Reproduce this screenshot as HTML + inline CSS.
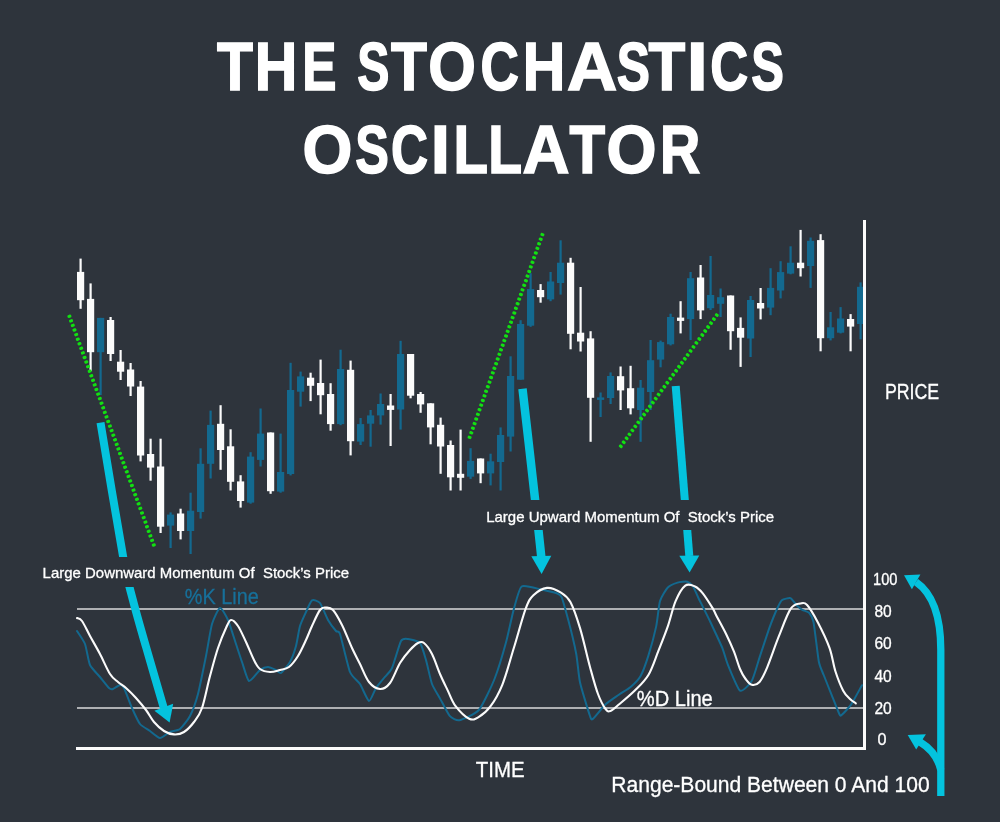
<!DOCTYPE html>
<html><head><meta charset="utf-8"><title>The Stochastics Oscillator</title>
<style>html,body{margin:0;padding:0;background:#2e343c;width:1000px;height:822px;overflow:hidden}svg{display:block;will-change:transform}</style>
</head><body>
<svg width="1000" height="822" viewBox="0 0 1000 822">
<rect width="1000" height="822" fill="#2e343c"/>
<g fill="#ffffff" stroke="#ffffff" stroke-width="1.60" stroke-linejoin="miter" font-family="'Liberation Sans', sans-serif" font-weight="bold" font-size="68.31">
<text transform="translate(217.03 90.20) scale(0.8607 1)">T</text><text transform="translate(254.75 90.20) scale(0.8620 1)">H</text><text transform="translate(302.17 90.20) scale(0.7514 1)">E</text><text transform="translate(357.18 90.20) scale(0.7054 1)">S</text><text transform="translate(391.03 90.20) scale(0.8607 1)">T</text><text transform="translate(428.20 90.20) scale(0.8967 1)">O</text><text transform="translate(480.44 90.20) scale(0.7781 1)">C</text><text transform="translate(522.75 90.20) scale(0.8620 1)">H</text><text transform="translate(567.08 90.20) scale(1.0183 1)">A</text><text transform="translate(616.65 90.20) scale(0.7289 1)">S</text><text transform="translate(648.53 90.20) scale(0.8798 1)">T</text><text transform="translate(686.82 90.20) scale(1.1101 1)">I</text><text transform="translate(710.26 90.20) scale(0.7695 1)">C</text><text transform="translate(751.16 90.20) scale(0.7172 1)">S</text>
<text transform="translate(302.62 172.70) scale(0.9395 1)">O</text><text transform="translate(355.14 172.70) scale(0.7383 1)">S</text><text transform="translate(391.10 172.70) scale(0.7500 1)">C</text><text transform="translate(430.78 172.70) scale(1.0140 1)">I</text><text transform="translate(453.58 172.70) scale(0.8266 1)">L</text><text transform="translate(488.25 172.70) scale(0.8102 1)">L</text><text transform="translate(522.44 172.70) scale(0.9529 1)">A</text><text transform="translate(569.53 172.70) scale(0.8535 1)">T</text><text transform="translate(606.52 172.70) scale(0.9416 1)">O</text><text transform="translate(659.92 172.70) scale(0.8162 1)">R</text>
</g>
<g><rect x="79.5" y="258.6" width="2.2" height="50.2" fill="#fbfbfb"/><rect x="77.0" y="271.9" width="7.2" height="28.3" fill="#fbfbfb"/><rect x="89.5" y="283.4" width="2.2" height="87.6" fill="#fbfbfb"/><rect x="87.0" y="298.9" width="7.2" height="53.3" fill="#fbfbfb"/><rect x="99.5" y="317.9" width="2.2" height="77.1" fill="#13698f"/><rect x="97.0" y="317.9" width="7.2" height="34.3" fill="#13698f"/><rect x="109.5" y="317.0" width="2.2" height="44.0" fill="#fbfbfb"/><rect x="107.0" y="320.0" width="7.2" height="34.0" fill="#fbfbfb"/><rect x="119.5" y="350.0" width="2.2" height="30.0" fill="#fbfbfb"/><rect x="117.0" y="361.7" width="7.2" height="10.0" fill="#fbfbfb"/><rect x="129.5" y="363.0" width="2.2" height="33.0" fill="#fbfbfb"/><rect x="127.0" y="369.5" width="7.2" height="17.0" fill="#fbfbfb"/><rect x="139.5" y="381.0" width="2.2" height="80.4" fill="#fbfbfb"/><rect x="137.0" y="386.6" width="7.2" height="68.9" fill="#fbfbfb"/><rect x="149.5" y="438.7" width="2.2" height="42.0" fill="#fbfbfb"/><rect x="147.0" y="454.0" width="7.2" height="13.6" fill="#fbfbfb"/><rect x="159.5" y="438.7" width="2.2" height="94.3" fill="#fbfbfb"/><rect x="157.0" y="466.5" width="7.2" height="60.2" fill="#fbfbfb"/><rect x="169.5" y="512.4" width="2.2" height="35.6" fill="#13698f"/><rect x="167.0" y="514.6" width="7.2" height="11.0" fill="#13698f"/><rect x="179.5" y="508.7" width="2.2" height="30.7" fill="#fbfbfb"/><rect x="177.0" y="513.5" width="7.2" height="17.5" fill="#fbfbfb"/><rect x="189.5" y="492.7" width="2.2" height="61.3" fill="#13698f"/><rect x="187.0" y="510.7" width="7.2" height="20.3" fill="#13698f"/><rect x="199.5" y="448.3" width="2.2" height="70.3" fill="#13698f"/><rect x="197.0" y="463.8" width="7.2" height="48.2" fill="#13698f"/><rect x="209.5" y="410.6" width="2.2" height="67.9" fill="#13698f"/><rect x="207.0" y="424.9" width="7.2" height="38.9" fill="#13698f"/><rect x="219.5" y="405.2" width="2.2" height="64.6" fill="#fbfbfb"/><rect x="217.0" y="423.8" width="7.2" height="26.2" fill="#fbfbfb"/><rect x="229.5" y="429.3" width="2.2" height="61.2" fill="#fbfbfb"/><rect x="227.0" y="446.3" width="7.2" height="35.5" fill="#fbfbfb"/><rect x="239.5" y="475.2" width="2.2" height="32.4" fill="#fbfbfb"/><rect x="237.0" y="481.4" width="7.2" height="19.6" fill="#fbfbfb"/><rect x="249.5" y="452.2" width="2.2" height="51.5" fill="#13698f"/><rect x="247.0" y="456.6" width="7.2" height="46.0" fill="#13698f"/><rect x="259.5" y="408.5" width="2.2" height="58.0" fill="#13698f"/><rect x="257.0" y="433.6" width="7.2" height="26.3" fill="#13698f"/><rect x="269.5" y="432.5" width="2.2" height="61.3" fill="#fbfbfb"/><rect x="267.0" y="432.5" width="7.2" height="58.7" fill="#fbfbfb"/><rect x="279.5" y="433.6" width="2.2" height="59.1" fill="#13698f"/><rect x="277.0" y="472.0" width="7.2" height="19.6" fill="#13698f"/><rect x="289.5" y="362.8" width="2.2" height="112.6" fill="#13698f"/><rect x="287.0" y="390.0" width="7.2" height="84.0" fill="#13698f"/><rect x="299.5" y="371.6" width="2.2" height="35.0" fill="#13698f"/><rect x="297.0" y="376.4" width="7.2" height="15.3" fill="#13698f"/><rect x="309.5" y="372.7" width="2.2" height="28.4" fill="#fbfbfb"/><rect x="307.0" y="377.7" width="7.2" height="8.1" fill="#fbfbfb"/><rect x="319.5" y="359.6" width="2.2" height="54.7" fill="#fbfbfb"/><rect x="317.0" y="383.0" width="7.2" height="12.2" fill="#fbfbfb"/><rect x="329.5" y="383.2" width="2.2" height="47.5" fill="#fbfbfb"/><rect x="327.0" y="394.0" width="7.2" height="30.1" fill="#fbfbfb"/><rect x="339.5" y="349.7" width="2.2" height="75.5" fill="#13698f"/><rect x="337.0" y="369.0" width="7.2" height="55.1" fill="#13698f"/><rect x="349.5" y="360.6" width="2.2" height="94.8" fill="#fbfbfb"/><rect x="347.0" y="369.8" width="7.2" height="71.4" fill="#fbfbfb"/><rect x="359.5" y="418.0" width="2.2" height="27.0" fill="#13698f"/><rect x="357.0" y="424.1" width="7.2" height="17.5" fill="#13698f"/><rect x="369.5" y="410.0" width="2.2" height="36.7" fill="#13698f"/><rect x="367.0" y="415.4" width="7.2" height="8.3" fill="#13698f"/><rect x="379.5" y="393.5" width="2.2" height="31.1" fill="#13698f"/><rect x="377.0" y="404.0" width="7.2" height="11.4" fill="#13698f"/><rect x="389.5" y="394.0" width="2.2" height="52.0" fill="#fbfbfb"/><rect x="387.0" y="405.5" width="7.2" height="4.4" fill="#fbfbfb"/><rect x="399.5" y="340.8" width="2.2" height="88.8" fill="#13698f"/><rect x="397.0" y="354.0" width="7.2" height="55.5" fill="#13698f"/><rect x="409.5" y="354.0" width="2.2" height="44.3" fill="#fbfbfb"/><rect x="407.0" y="354.0" width="7.2" height="41.7" fill="#fbfbfb"/><rect x="419.5" y="392.0" width="2.2" height="20.8" fill="#fbfbfb"/><rect x="417.0" y="394.0" width="7.2" height="10.4" fill="#fbfbfb"/><rect x="429.5" y="403.3" width="2.2" height="41.0" fill="#fbfbfb"/><rect x="427.0" y="403.3" width="7.2" height="24.1" fill="#fbfbfb"/><rect x="439.5" y="417.6" width="2.2" height="56.2" fill="#fbfbfb"/><rect x="437.0" y="424.8" width="7.2" height="21.7" fill="#fbfbfb"/><rect x="449.5" y="440.5" width="2.2" height="50.0" fill="#fbfbfb"/><rect x="447.0" y="445.0" width="7.2" height="32.3" fill="#fbfbfb"/><rect x="459.5" y="429.6" width="2.2" height="60.9" fill="#fbfbfb"/><rect x="457.0" y="473.8" width="7.2" height="4.0" fill="#fbfbfb"/><rect x="469.5" y="448.2" width="2.2" height="30.7" fill="#13698f"/><rect x="467.0" y="460.9" width="7.2" height="15.8" fill="#13698f"/><rect x="479.5" y="458.5" width="2.2" height="24.7" fill="#fbfbfb"/><rect x="477.0" y="458.5" width="7.2" height="14.9" fill="#fbfbfb"/><rect x="489.5" y="453.7" width="2.2" height="31.7" fill="#13698f"/><rect x="487.0" y="461.3" width="7.2" height="12.1" fill="#13698f"/><rect x="499.5" y="427.4" width="2.2" height="63.1" fill="#13698f"/><rect x="497.0" y="435.0" width="7.2" height="27.0" fill="#13698f"/><rect x="509.5" y="356.3" width="2.2" height="95.2" fill="#13698f"/><rect x="507.0" y="376.0" width="7.2" height="60.6" fill="#13698f"/><rect x="519.5" y="320.2" width="2.2" height="59.5" fill="#13698f"/><rect x="517.0" y="324.0" width="7.2" height="55.7" fill="#13698f"/><rect x="529.5" y="273.2" width="2.2" height="53.6" fill="#13698f"/><rect x="527.0" y="289.1" width="7.2" height="36.6" fill="#13698f"/><rect x="539.5" y="284.1" width="2.2" height="18.6" fill="#fbfbfb"/><rect x="537.0" y="290.0" width="7.2" height="7.2" fill="#fbfbfb"/><rect x="549.5" y="272.0" width="2.2" height="29.2" fill="#13698f"/><rect x="547.0" y="281.5" width="7.2" height="17.9" fill="#13698f"/><rect x="559.5" y="240.3" width="2.2" height="54.3" fill="#13698f"/><rect x="557.0" y="262.7" width="7.2" height="20.3" fill="#13698f"/><rect x="569.5" y="257.8" width="2.2" height="91.5" fill="#fbfbfb"/><rect x="567.0" y="262.7" width="7.2" height="71.1" fill="#fbfbfb"/><rect x="579.5" y="287.0" width="2.2" height="64.5" fill="#fbfbfb"/><rect x="577.0" y="332.7" width="7.2" height="8.8" fill="#fbfbfb"/><rect x="589.5" y="331.2" width="2.2" height="110.6" fill="#fbfbfb"/><rect x="587.0" y="338.4" width="7.2" height="59.4" fill="#fbfbfb"/><rect x="599.5" y="392.5" width="2.2" height="24.5" fill="#13698f"/><rect x="597.0" y="397.4" width="7.2" height="2.5" fill="#13698f"/><rect x="609.5" y="372.4" width="2.2" height="31.6" fill="#13698f"/><rect x="607.0" y="376.0" width="7.2" height="22.0" fill="#13698f"/><rect x="619.5" y="366.5" width="2.2" height="43.5" fill="#fbfbfb"/><rect x="617.0" y="376.2" width="7.2" height="14.2" fill="#fbfbfb"/><rect x="629.5" y="365.8" width="2.2" height="48.6" fill="#fbfbfb"/><rect x="627.0" y="388.2" width="7.2" height="20.1" fill="#fbfbfb"/><rect x="639.5" y="380.0" width="2.2" height="61.8" fill="#13698f"/><rect x="637.0" y="387.7" width="7.2" height="22.3" fill="#13698f"/><rect x="649.5" y="340.0" width="2.2" height="70.0" fill="#13698f"/><rect x="647.0" y="360.2" width="7.2" height="31.8" fill="#13698f"/><rect x="659.5" y="340.6" width="2.2" height="26.7" fill="#13698f"/><rect x="657.0" y="342.1" width="7.2" height="17.5" fill="#13698f"/><rect x="669.5" y="313.7" width="2.2" height="31.7" fill="#13698f"/><rect x="667.0" y="317.0" width="7.2" height="27.3" fill="#13698f"/><rect x="679.5" y="301.2" width="2.2" height="32.2" fill="#fbfbfb"/><rect x="677.0" y="317.6" width="7.2" height="3.3" fill="#fbfbfb"/><rect x="689.5" y="272.0" width="2.2" height="68.0" fill="#13698f"/><rect x="687.0" y="278.2" width="7.2" height="40.9" fill="#13698f"/><rect x="699.5" y="265.0" width="2.2" height="54.1" fill="#fbfbfb"/><rect x="697.0" y="277.5" width="7.2" height="32.9" fill="#fbfbfb"/><rect x="709.5" y="256.0" width="2.2" height="54.0" fill="#13698f"/><rect x="707.0" y="295.0" width="7.2" height="13.2" fill="#13698f"/><rect x="719.5" y="288.5" width="2.2" height="28.5" fill="#13698f"/><rect x="717.0" y="297.2" width="7.2" height="6.6" fill="#13698f"/><rect x="729.5" y="295.5" width="2.2" height="54.3" fill="#fbfbfb"/><rect x="727.0" y="295.5" width="7.2" height="35.7" fill="#fbfbfb"/><rect x="739.5" y="317.4" width="2.2" height="49.5" fill="#fbfbfb"/><rect x="737.0" y="327.9" width="7.2" height="9.8" fill="#fbfbfb"/><rect x="749.5" y="296.0" width="2.2" height="61.0" fill="#13698f"/><rect x="747.0" y="300.0" width="7.2" height="38.5" fill="#13698f"/><rect x="759.5" y="288.0" width="2.2" height="31.4" fill="#fbfbfb"/><rect x="757.0" y="303.0" width="7.2" height="5.5" fill="#fbfbfb"/><rect x="769.5" y="268.2" width="2.2" height="47.0" fill="#13698f"/><rect x="767.0" y="287.9" width="7.2" height="19.7" fill="#13698f"/><rect x="779.5" y="261.2" width="2.2" height="37.2" fill="#13698f"/><rect x="777.0" y="272.1" width="7.2" height="18.4" fill="#13698f"/><rect x="789.5" y="246.3" width="2.2" height="28.0" fill="#13698f"/><rect x="787.0" y="262.7" width="7.2" height="10.9" fill="#13698f"/><rect x="799.5" y="229.9" width="2.2" height="46.6" fill="#fbfbfb"/><rect x="797.0" y="262.7" width="7.2" height="5.5" fill="#fbfbfb"/><rect x="809.5" y="237.5" width="2.2" height="50.4" fill="#13698f"/><rect x="807.0" y="240.8" width="7.2" height="25.2" fill="#13698f"/><rect x="819.5" y="234.2" width="2.2" height="117.1" fill="#fbfbfb"/><rect x="817.0" y="240.1" width="7.2" height="98.1" fill="#fbfbfb"/><rect x="829.5" y="312.0" width="2.2" height="28.4" fill="#13698f"/><rect x="827.0" y="327.3" width="7.2" height="10.9" fill="#13698f"/><rect x="839.5" y="307.1" width="2.2" height="26.3" fill="#13698f"/><rect x="837.0" y="318.5" width="7.2" height="14.2" fill="#13698f"/><rect x="849.5" y="314.1" width="2.2" height="37.2" fill="#fbfbfb"/><rect x="847.0" y="319.0" width="7.2" height="7.6" fill="#fbfbfb"/><rect x="859.5" y="282.4" width="2.2" height="56.9" fill="#13698f"/><rect x="857.0" y="286.8" width="7.2" height="37.2" fill="#13698f"/></g>
<g fill="#12e012"><rect x="67.9" y="314.3" width="3.0" height="4.0" rx="1.2" transform="rotate(69.7 69.4 316.3)"/><rect x="69.6" y="318.9" width="3.0" height="4.0" rx="1.2" transform="rotate(69.7 71.1 320.9)"/><rect x="71.3" y="323.4" width="3.0" height="4.0" rx="1.2" transform="rotate(69.7 72.8 325.4)"/><rect x="73.0" y="328.0" width="3.0" height="4.0" rx="1.2" transform="rotate(69.7 74.5 330.0)"/><rect x="74.7" y="332.6" width="3.0" height="4.0" rx="1.2" transform="rotate(69.7 76.2 334.6)"/><rect x="76.3" y="337.2" width="3.0" height="4.0" rx="1.2" transform="rotate(69.7 77.8 339.2)"/><rect x="78.0" y="341.7" width="3.0" height="4.0" rx="1.2" transform="rotate(69.7 79.5 343.7)"/><rect x="79.7" y="346.3" width="3.0" height="4.0" rx="1.2" transform="rotate(69.7 81.2 348.3)"/><rect x="81.4" y="350.9" width="3.0" height="4.0" rx="1.2" transform="rotate(69.7 82.9 352.9)"/><rect x="83.1" y="355.5" width="3.0" height="4.0" rx="1.2" transform="rotate(69.7 84.6 357.5)"/><rect x="84.8" y="360.0" width="3.0" height="4.0" rx="1.2" transform="rotate(69.7 86.3 362.0)"/><rect x="86.5" y="364.6" width="3.0" height="4.0" rx="1.2" transform="rotate(69.7 88.0 366.6)"/><rect x="88.2" y="369.2" width="3.0" height="4.0" rx="1.2" transform="rotate(69.7 89.7 371.2)"/><rect x="89.8" y="373.8" width="3.0" height="4.0" rx="1.2" transform="rotate(69.7 91.3 375.8)"/><rect x="91.5" y="378.3" width="3.0" height="4.0" rx="1.2" transform="rotate(69.7 93.0 380.3)"/><rect x="93.2" y="382.9" width="3.0" height="4.0" rx="1.2" transform="rotate(69.7 94.7 384.9)"/><rect x="94.9" y="387.5" width="3.0" height="4.0" rx="1.2" transform="rotate(69.7 96.4 389.5)"/><rect x="96.6" y="392.1" width="3.0" height="4.0" rx="1.2" transform="rotate(69.7 98.1 394.1)"/><rect x="98.3" y="396.6" width="3.0" height="4.0" rx="1.2" transform="rotate(69.7 99.8 398.6)"/><rect x="100.0" y="401.2" width="3.0" height="4.0" rx="1.2" transform="rotate(69.7 101.5 403.2)"/><rect x="101.7" y="405.8" width="3.0" height="4.0" rx="1.2" transform="rotate(69.7 103.2 407.8)"/><rect x="103.3" y="410.4" width="3.0" height="4.0" rx="1.2" transform="rotate(69.7 104.8 412.4)"/><rect x="105.0" y="414.9" width="3.0" height="4.0" rx="1.2" transform="rotate(69.7 106.5 416.9)"/><rect x="106.7" y="419.5" width="3.0" height="4.0" rx="1.2" transform="rotate(69.7 108.2 421.5)"/><rect x="108.4" y="424.1" width="3.0" height="4.0" rx="1.2" transform="rotate(69.7 109.9 426.1)"/><rect x="110.1" y="428.6" width="3.0" height="4.0" rx="1.2" transform="rotate(69.7 111.6 430.6)"/><rect x="111.8" y="433.2" width="3.0" height="4.0" rx="1.2" transform="rotate(69.7 113.3 435.2)"/><rect x="113.5" y="437.8" width="3.0" height="4.0" rx="1.2" transform="rotate(69.7 115.0 439.8)"/><rect x="115.2" y="442.4" width="3.0" height="4.0" rx="1.2" transform="rotate(69.7 116.7 444.4)"/><rect x="116.9" y="446.9" width="3.0" height="4.0" rx="1.2" transform="rotate(69.7 118.4 448.9)"/><rect x="118.5" y="451.5" width="3.0" height="4.0" rx="1.2" transform="rotate(69.7 120.0 453.5)"/><rect x="120.2" y="456.1" width="3.0" height="4.0" rx="1.2" transform="rotate(69.7 121.7 458.1)"/><rect x="121.9" y="460.7" width="3.0" height="4.0" rx="1.2" transform="rotate(69.7 123.4 462.7)"/><rect x="123.6" y="465.2" width="3.0" height="4.0" rx="1.2" transform="rotate(69.7 125.1 467.2)"/><rect x="125.3" y="469.8" width="3.0" height="4.0" rx="1.2" transform="rotate(69.7 126.8 471.8)"/><rect x="127.0" y="474.4" width="3.0" height="4.0" rx="1.2" transform="rotate(69.7 128.5 476.4)"/><rect x="128.7" y="479.0" width="3.0" height="4.0" rx="1.2" transform="rotate(69.7 130.2 481.0)"/><rect x="130.4" y="483.5" width="3.0" height="4.0" rx="1.2" transform="rotate(69.7 131.9 485.5)"/><rect x="132.0" y="488.1" width="3.0" height="4.0" rx="1.2" transform="rotate(69.7 133.5 490.1)"/><rect x="133.7" y="492.7" width="3.0" height="4.0" rx="1.2" transform="rotate(69.7 135.2 494.7)"/><rect x="135.4" y="497.3" width="3.0" height="4.0" rx="1.2" transform="rotate(69.7 136.9 499.3)"/><rect x="137.1" y="501.8" width="3.0" height="4.0" rx="1.2" transform="rotate(69.7 138.6 503.8)"/><rect x="138.8" y="506.4" width="3.0" height="4.0" rx="1.2" transform="rotate(69.7 140.3 508.4)"/><rect x="140.5" y="511.0" width="3.0" height="4.0" rx="1.2" transform="rotate(69.7 142.0 513.0)"/><rect x="142.2" y="515.6" width="3.0" height="4.0" rx="1.2" transform="rotate(69.7 143.7 517.6)"/><rect x="143.9" y="520.1" width="3.0" height="4.0" rx="1.2" transform="rotate(69.7 145.4 522.1)"/><rect x="145.5" y="524.7" width="3.0" height="4.0" rx="1.2" transform="rotate(69.7 147.0 526.7)"/><rect x="147.2" y="529.3" width="3.0" height="4.0" rx="1.2" transform="rotate(69.7 148.7 531.3)"/><rect x="148.9" y="533.9" width="3.0" height="4.0" rx="1.2" transform="rotate(69.7 150.4 535.9)"/><rect x="150.6" y="538.4" width="3.0" height="4.0" rx="1.2" transform="rotate(69.7 152.1 540.4)"/><rect x="152.3" y="543.0" width="3.0" height="4.0" rx="1.2" transform="rotate(69.7 153.8 545.0)"/><rect x="468.1" y="435.4" width="3.0" height="4.0" rx="1.2" transform="rotate(-70.3 469.6 437.4)"/><rect x="469.8" y="430.8" width="3.0" height="4.0" rx="1.2" transform="rotate(-70.3 471.3 432.8)"/><rect x="471.4" y="426.2" width="3.0" height="4.0" rx="1.2" transform="rotate(-70.3 472.9 428.2)"/><rect x="473.1" y="421.6" width="3.0" height="4.0" rx="1.2" transform="rotate(-70.3 474.6 423.6)"/><rect x="474.7" y="417.0" width="3.0" height="4.0" rx="1.2" transform="rotate(-70.3 476.2 419.0)"/><rect x="476.4" y="412.4" width="3.0" height="4.0" rx="1.2" transform="rotate(-70.3 477.9 414.4)"/><rect x="478.0" y="407.7" width="3.0" height="4.0" rx="1.2" transform="rotate(-70.3 479.5 409.7)"/><rect x="479.7" y="403.1" width="3.0" height="4.0" rx="1.2" transform="rotate(-70.3 481.2 405.1)"/><rect x="481.3" y="398.5" width="3.0" height="4.0" rx="1.2" transform="rotate(-70.3 482.8 400.5)"/><rect x="483.0" y="393.9" width="3.0" height="4.0" rx="1.2" transform="rotate(-70.3 484.5 395.9)"/><rect x="484.6" y="389.3" width="3.0" height="4.0" rx="1.2" transform="rotate(-70.3 486.1 391.3)"/><rect x="486.3" y="384.7" width="3.0" height="4.0" rx="1.2" transform="rotate(-70.3 487.8 386.7)"/><rect x="488.0" y="380.1" width="3.0" height="4.0" rx="1.2" transform="rotate(-70.3 489.5 382.1)"/><rect x="489.6" y="375.5" width="3.0" height="4.0" rx="1.2" transform="rotate(-70.3 491.1 377.5)"/><rect x="491.3" y="370.9" width="3.0" height="4.0" rx="1.2" transform="rotate(-70.3 492.8 372.9)"/><rect x="492.9" y="366.3" width="3.0" height="4.0" rx="1.2" transform="rotate(-70.3 494.4 368.3)"/><rect x="494.6" y="361.7" width="3.0" height="4.0" rx="1.2" transform="rotate(-70.3 496.1 363.7)"/><rect x="496.2" y="357.0" width="3.0" height="4.0" rx="1.2" transform="rotate(-70.3 497.7 359.0)"/><rect x="497.9" y="352.4" width="3.0" height="4.0" rx="1.2" transform="rotate(-70.3 499.4 354.4)"/><rect x="499.5" y="347.8" width="3.0" height="4.0" rx="1.2" transform="rotate(-70.3 501.0 349.8)"/><rect x="501.2" y="343.2" width="3.0" height="4.0" rx="1.2" transform="rotate(-70.3 502.7 345.2)"/><rect x="502.8" y="338.6" width="3.0" height="4.0" rx="1.2" transform="rotate(-70.3 504.3 340.6)"/><rect x="504.5" y="334.0" width="3.0" height="4.0" rx="1.2" transform="rotate(-70.3 506.0 336.0)"/><rect x="506.2" y="329.4" width="3.0" height="4.0" rx="1.2" transform="rotate(-70.3 507.7 331.4)"/><rect x="507.8" y="324.8" width="3.0" height="4.0" rx="1.2" transform="rotate(-70.3 509.3 326.8)"/><rect x="509.5" y="320.2" width="3.0" height="4.0" rx="1.2" transform="rotate(-70.3 511.0 322.2)"/><rect x="511.1" y="315.6" width="3.0" height="4.0" rx="1.2" transform="rotate(-70.3 512.6 317.6)"/><rect x="512.8" y="311.0" width="3.0" height="4.0" rx="1.2" transform="rotate(-70.3 514.3 313.0)"/><rect x="514.4" y="306.3" width="3.0" height="4.0" rx="1.2" transform="rotate(-70.3 515.9 308.3)"/><rect x="516.1" y="301.7" width="3.0" height="4.0" rx="1.2" transform="rotate(-70.3 517.6 303.7)"/><rect x="517.7" y="297.1" width="3.0" height="4.0" rx="1.2" transform="rotate(-70.3 519.2 299.1)"/><rect x="519.4" y="292.5" width="3.0" height="4.0" rx="1.2" transform="rotate(-70.3 520.9 294.5)"/><rect x="521.0" y="287.9" width="3.0" height="4.0" rx="1.2" transform="rotate(-70.3 522.5 289.9)"/><rect x="522.7" y="283.3" width="3.0" height="4.0" rx="1.2" transform="rotate(-70.3 524.2 285.3)"/><rect x="524.4" y="278.7" width="3.0" height="4.0" rx="1.2" transform="rotate(-70.3 525.9 280.7)"/><rect x="526.0" y="274.1" width="3.0" height="4.0" rx="1.2" transform="rotate(-70.3 527.5 276.1)"/><rect x="527.7" y="269.5" width="3.0" height="4.0" rx="1.2" transform="rotate(-70.3 529.2 271.5)"/><rect x="529.3" y="264.9" width="3.0" height="4.0" rx="1.2" transform="rotate(-70.3 530.8 266.9)"/><rect x="531.0" y="260.3" width="3.0" height="4.0" rx="1.2" transform="rotate(-70.3 532.5 262.3)"/><rect x="532.6" y="255.6" width="3.0" height="4.0" rx="1.2" transform="rotate(-70.3 534.1 257.6)"/><rect x="534.3" y="251.0" width="3.0" height="4.0" rx="1.2" transform="rotate(-70.3 535.8 253.0)"/><rect x="535.9" y="246.4" width="3.0" height="4.0" rx="1.2" transform="rotate(-70.3 537.4 248.4)"/><rect x="537.6" y="241.8" width="3.0" height="4.0" rx="1.2" transform="rotate(-70.3 539.1 243.8)"/><rect x="539.2" y="237.2" width="3.0" height="4.0" rx="1.2" transform="rotate(-70.3 540.7 239.2)"/><rect x="540.9" y="232.6" width="3.0" height="4.0" rx="1.2" transform="rotate(-70.3 542.4 234.6)"/><rect x="619.3" y="444.3" width="3.0" height="4.0" rx="1.2" transform="rotate(-53.8 620.8 446.3)"/><rect x="622.2" y="440.3" width="3.0" height="4.0" rx="1.2" transform="rotate(-53.8 623.7 442.3)"/><rect x="625.1" y="436.3" width="3.0" height="4.0" rx="1.2" transform="rotate(-53.8 626.6 438.3)"/><rect x="628.0" y="432.4" width="3.0" height="4.0" rx="1.2" transform="rotate(-53.8 629.5 434.4)"/><rect x="630.9" y="428.4" width="3.0" height="4.0" rx="1.2" transform="rotate(-53.8 632.4 430.4)"/><rect x="633.8" y="424.4" width="3.0" height="4.0" rx="1.2" transform="rotate(-53.8 635.3 426.4)"/><rect x="636.8" y="420.4" width="3.0" height="4.0" rx="1.2" transform="rotate(-53.8 638.3 422.4)"/><rect x="639.7" y="416.5" width="3.0" height="4.0" rx="1.2" transform="rotate(-53.8 641.2 418.5)"/><rect x="642.6" y="412.5" width="3.0" height="4.0" rx="1.2" transform="rotate(-53.8 644.1 414.5)"/><rect x="645.5" y="408.5" width="3.0" height="4.0" rx="1.2" transform="rotate(-53.8 647.0 410.5)"/><rect x="648.4" y="404.5" width="3.0" height="4.0" rx="1.2" transform="rotate(-53.8 649.9 406.5)"/><rect x="651.3" y="400.6" width="3.0" height="4.0" rx="1.2" transform="rotate(-53.8 652.8 402.6)"/><rect x="654.2" y="396.6" width="3.0" height="4.0" rx="1.2" transform="rotate(-53.8 655.7 398.6)"/><rect x="657.1" y="392.6" width="3.0" height="4.0" rx="1.2" transform="rotate(-53.8 658.6 394.6)"/><rect x="660.0" y="388.6" width="3.0" height="4.0" rx="1.2" transform="rotate(-53.8 661.5 390.6)"/><rect x="662.9" y="384.7" width="3.0" height="4.0" rx="1.2" transform="rotate(-53.8 664.4 386.7)"/><rect x="665.8" y="380.7" width="3.0" height="4.0" rx="1.2" transform="rotate(-53.8 667.3 382.7)"/><rect x="668.8" y="376.7" width="3.0" height="4.0" rx="1.2" transform="rotate(-53.8 670.3 378.7)"/><rect x="671.7" y="372.7" width="3.0" height="4.0" rx="1.2" transform="rotate(-53.8 673.2 374.7)"/><rect x="674.6" y="368.8" width="3.0" height="4.0" rx="1.2" transform="rotate(-53.8 676.1 370.8)"/><rect x="677.5" y="364.8" width="3.0" height="4.0" rx="1.2" transform="rotate(-53.8 679.0 366.8)"/><rect x="680.4" y="360.8" width="3.0" height="4.0" rx="1.2" transform="rotate(-53.8 681.9 362.8)"/><rect x="683.3" y="356.8" width="3.0" height="4.0" rx="1.2" transform="rotate(-53.8 684.8 358.8)"/><rect x="686.2" y="352.9" width="3.0" height="4.0" rx="1.2" transform="rotate(-53.8 687.7 354.9)"/><rect x="689.1" y="348.9" width="3.0" height="4.0" rx="1.2" transform="rotate(-53.8 690.6 350.9)"/><rect x="692.0" y="344.9" width="3.0" height="4.0" rx="1.2" transform="rotate(-53.8 693.5 346.9)"/><rect x="694.9" y="340.9" width="3.0" height="4.0" rx="1.2" transform="rotate(-53.8 696.4 342.9)"/><rect x="697.8" y="337.0" width="3.0" height="4.0" rx="1.2" transform="rotate(-53.8 699.3 339.0)"/><rect x="700.8" y="333.0" width="3.0" height="4.0" rx="1.2" transform="rotate(-53.8 702.3 335.0)"/><rect x="703.7" y="329.0" width="3.0" height="4.0" rx="1.2" transform="rotate(-53.8 705.2 331.0)"/><rect x="706.6" y="325.0" width="3.0" height="4.0" rx="1.2" transform="rotate(-53.8 708.1 327.0)"/><rect x="709.5" y="321.1" width="3.0" height="4.0" rx="1.2" transform="rotate(-53.8 711.0 323.1)"/><rect x="712.4" y="317.1" width="3.0" height="4.0" rx="1.2" transform="rotate(-53.8 713.9 319.1)"/><rect x="715.3" y="313.1" width="3.0" height="4.0" rx="1.2" transform="rotate(-53.8 716.8 315.1)"/></g>
<rect x="863" y="220" width="3" height="530" fill="#fbfbfb"/>
<rect x="76" y="747" width="790" height="3" fill="#fbfbfb"/>
<rect x="77" y="608" width="786" height="2" fill="#aeb0b3"/>
<rect x="77" y="707" width="786" height="2" fill="#aeb0b3"/>
<path d="M77.0 631.0 C77.8 632.3 83.7 640.6 85.0 644.0 C86.3 647.4 88.5 661.7 90.0 665.0 C91.5 668.3 98.1 674.7 100.0 677.0 C101.9 679.3 107.7 686.8 109.0 688.0 C110.3 689.2 111.9 689.3 113.0 689.0 C114.1 688.7 118.9 685.1 120.0 685.0 C121.1 684.9 122.8 685.7 124.0 688.0 C125.2 690.3 130.4 704.4 132.0 708.0 C133.6 711.6 138.2 721.7 140.0 724.0 C141.8 726.3 148.0 729.6 150.0 731.0 C152.0 732.4 158.0 737.9 160.0 738.0 C162.0 738.1 168.0 732.9 170.0 732.0 C172.0 731.1 178.0 730.6 180.0 729.0 C182.0 727.4 188.2 719.5 190.0 716.0 C191.8 712.5 196.4 700.0 198.0 694.0 C199.6 688.0 204.6 663.0 206.0 656.0 C207.4 649.0 210.6 628.8 212.0 624.0 C213.4 619.2 218.4 608.4 220.0 608.0 C221.6 607.6 226.4 616.4 228.0 620.0 C229.6 623.6 234.6 639.8 236.0 644.0 C237.4 648.2 240.7 658.3 242.0 662.0 C243.3 665.7 247.2 680.2 249.0 681.0 C250.8 681.8 258.1 671.4 260.0 670.0 C261.9 668.6 266.4 667.0 268.0 667.0 C269.6 667.0 274.7 669.4 276.0 670.0 C277.3 670.6 279.6 673.8 281.0 673.0 C282.4 672.2 288.5 664.7 290.0 662.0 C291.5 659.3 295.0 649.6 296.0 646.0 C297.0 642.4 299.0 629.4 300.0 626.0 C301.0 622.6 304.8 614.6 306.0 612.0 C307.2 609.4 310.6 601.3 312.0 600.4 C313.4 599.5 318.4 601.0 320.0 603.0 C321.6 605.0 326.4 617.2 328.0 620.0 C329.6 622.8 334.8 629.6 336.0 631.0 C337.2 632.4 338.6 629.9 340.0 634.0 C341.4 638.1 348.0 667.0 350.0 672.0 C352.0 677.0 358.1 681.1 360.0 684.0 C361.9 686.9 367.4 700.6 369.0 701.0 C370.6 701.4 374.5 690.3 376.0 688.0 C377.5 685.7 382.4 680.0 384.0 678.0 C385.6 676.0 390.3 671.7 392.0 668.0 C393.7 664.3 399.4 643.9 401.0 641.0 C402.6 638.1 406.1 638.8 408.0 639.0 C409.9 639.2 418.2 640.9 420.0 643.0 C421.8 645.1 424.8 655.9 426.0 660.0 C427.2 664.1 430.6 680.2 432.0 684.0 C433.4 687.8 438.2 695.2 440.0 698.4 C441.8 701.6 447.8 713.7 449.7 715.9 C451.6 718.1 456.6 720.8 459.5 720.2 C462.4 719.6 475.4 714.1 478.9 710.0 C482.4 705.9 491.8 685.8 494.5 679.0 C497.2 672.2 504.2 649.0 506.1 642.0 C508.0 635.0 512.3 614.4 513.9 608.9 C515.5 603.4 519.0 588.4 521.7 586.5 C524.4 584.6 537.7 588.8 541.2 589.5 C544.7 590.2 554.7 592.5 556.7 593.3 C558.7 594.1 560.4 594.5 561.6 597.2 C562.8 599.9 566.9 615.0 568.4 620.6 C569.9 626.2 575.0 647.5 576.2 653.7 C577.4 659.9 578.7 676.6 580.1 682.8 C581.5 689.0 588.7 712.4 590.0 716.0 C591.3 719.6 591.3 720.1 592.9 718.9 C594.5 717.7 603.0 706.7 605.6 704.3 C608.2 701.9 616.7 696.3 619.2 694.5 C621.7 692.7 628.8 688.6 630.9 686.7 C633.0 684.9 638.9 679.1 640.6 676.0 C642.4 672.9 646.8 660.6 648.4 655.6 C650.0 650.6 655.0 631.9 656.2 626.4 C657.4 620.9 658.8 605.0 660.0 601.1 C661.2 597.2 666.0 589.4 667.8 587.5 C669.5 585.6 675.5 583.2 677.5 582.6 C679.5 582.0 685.7 581.3 687.3 581.7 C688.9 582.1 691.9 584.8 693.1 586.5 C694.3 588.2 697.2 595.6 699.0 599.2 C700.8 602.8 708.3 617.6 710.6 622.5 C712.9 627.4 720.5 643.6 722.3 647.9 C724.0 652.2 726.3 661.0 728.1 665.3 C729.9 669.6 737.6 689.0 740.0 690.6 C742.4 692.2 749.8 684.3 751.7 681.0 C753.7 677.7 757.8 662.9 759.5 657.6 C761.2 652.3 767.5 633.3 769.2 628.4 C771.0 623.5 775.7 611.8 777.0 609.0 C778.3 606.2 780.4 601.3 781.8 600.2 C783.2 599.1 789.1 597.7 790.6 598.2 C792.1 598.7 795.2 603.8 796.4 605.0 C797.6 606.2 801.0 609.1 802.3 609.9 C803.6 610.7 808.0 611.6 809.1 612.8 C810.2 614.0 812.5 617.1 813.5 622.0 C814.5 626.9 817.8 656.2 818.8 661.5 C819.8 666.8 822.4 671.7 823.7 675.0 C825.0 678.3 829.9 690.7 831.5 694.6 C833.1 698.5 838.3 712.0 839.3 714.0 C840.3 716.0 840.4 716.0 841.6 715.0 C842.8 714.0 849.2 707.4 851.2 704.4 C853.2 701.4 860.9 687.1 862.0 685.2" fill="none" stroke="#13698f" stroke-width="2.0" stroke-linejoin="round" stroke-linecap="round"/>
<path d="M77.0 618.0 C77.8 618.5 79.8 618.0 82.0 621.0 C84.2 624.0 87.0 630.5 90.0 636.0 C93.0 641.5 96.7 647.7 100.0 654.0 C103.3 660.3 107.0 669.3 110.0 674.0 C113.0 678.7 115.3 679.7 118.0 682.0 C120.7 684.3 123.0 685.3 126.0 688.0 C129.0 690.7 132.7 694.3 136.0 698.0 C139.3 701.7 143.0 706.0 146.0 710.0 C149.0 714.0 151.0 718.5 154.0 722.0 C157.0 725.5 160.7 728.9 164.0 731.0 C167.3 733.1 170.7 734.2 174.0 734.4 C177.3 734.6 180.7 734.1 184.0 732.0 C187.3 729.9 191.0 726.0 194.0 722.0 C197.0 718.0 199.3 715.7 202.0 708.0 C204.7 700.3 207.3 686.0 210.0 676.0 C212.7 666.0 215.3 656.0 218.0 648.0 C220.7 640.0 223.8 632.7 226.0 628.0 C228.2 623.3 229.0 620.3 231.0 620.0 C233.0 619.7 235.5 622.3 238.0 626.0 C240.5 629.7 243.3 636.3 246.0 642.0 C248.7 647.7 251.7 655.5 254.0 660.0 C256.3 664.5 257.3 667.0 260.0 669.0 C262.7 671.0 266.7 671.8 270.0 672.0 C273.3 672.2 276.8 670.8 280.0 670.0 C283.2 669.2 286.0 669.3 289.0 667.0 C292.0 664.7 295.2 660.5 298.0 656.0 C300.8 651.5 303.7 645.0 306.0 640.0 C308.3 635.0 309.7 631.0 312.0 626.0 C314.3 621.0 317.7 613.1 320.0 610.0 C322.3 606.9 323.8 607.6 326.0 607.6 C328.2 607.6 330.3 607.1 333.0 610.0 C335.7 612.9 338.8 618.7 342.0 625.0 C345.2 631.3 349.0 641.5 352.0 648.0 C355.0 654.5 357.2 658.3 360.0 664.0 C362.8 669.7 365.7 677.8 369.0 682.0 C372.3 686.2 376.5 688.8 380.0 689.0 C383.5 689.2 386.7 687.3 390.0 683.0 C393.3 678.7 396.7 668.5 400.0 663.0 C403.3 657.5 407.0 653.3 410.0 650.0 C413.0 646.7 415.7 644.2 418.0 643.0 C420.3 641.8 421.7 641.2 424.0 643.0 C426.3 644.8 429.3 648.8 432.0 654.0 C434.7 659.2 437.4 667.9 440.0 674.0 C442.6 680.1 445.2 685.2 447.8 690.6 C450.4 696.0 452.0 701.5 455.6 706.2 C459.2 710.9 465.3 717.0 469.2 718.8 C473.1 720.6 475.3 719.0 478.9 716.9 C482.5 714.8 486.7 711.6 490.6 706.2 C494.5 700.9 498.4 694.5 502.3 684.8 C506.2 675.1 510.0 660.4 513.9 647.8 C517.8 635.1 522.4 617.6 525.6 608.9 C528.9 600.1 529.8 598.8 533.4 595.3 C537.0 591.8 542.5 588.4 547.0 587.9 C551.5 587.4 556.7 590.0 560.6 592.4 C564.5 594.8 567.1 596.1 570.4 602.1 C573.6 608.1 576.8 617.6 580.1 628.4 C583.4 639.2 587.0 656.1 590.0 667.0 C593.0 677.9 595.4 687.0 598.0 694.0 C600.6 701.0 603.5 706.2 605.6 709.0 C607.7 711.8 608.1 711.8 610.4 711.0 C612.7 710.2 615.1 707.7 619.2 704.3 C623.3 700.9 629.9 695.5 634.8 690.6 C639.7 685.7 644.5 681.5 648.4 675.0 C652.3 668.5 654.9 659.8 658.1 651.7 C661.3 643.6 664.9 634.8 667.8 626.4 C670.7 618.0 672.7 607.9 675.6 601.1 C678.5 594.3 682.1 588.0 685.3 585.6 C688.5 583.2 692.1 585.2 695.0 586.5 C697.9 587.8 699.9 589.7 702.8 593.3 C705.7 596.9 710.2 604.2 712.5 607.9 C714.8 611.6 714.1 611.3 716.4 615.7 C718.7 620.1 723.3 628.2 726.2 634.2 C729.1 640.2 731.7 645.9 734.0 651.7 C736.3 657.5 738.1 664.5 740.0 669.0 C741.9 673.5 743.6 676.4 745.6 679.0 C747.6 681.6 749.4 684.3 751.7 684.8 C754.0 685.3 756.9 684.9 759.5 682.0 C762.1 679.1 764.0 674.9 767.2 667.3 C770.4 659.7 775.0 645.9 778.9 636.2 C782.8 626.5 787.0 614.4 790.6 608.9 C794.2 603.4 797.5 604.1 800.3 603.5 C803.0 602.9 804.2 601.8 807.1 605.0 C810.0 608.2 814.2 615.4 817.9 622.5 C821.6 629.6 826.6 639.8 829.5 647.9 C832.4 656.0 833.1 664.1 835.4 671.2 C837.7 678.3 840.8 686.1 843.2 690.7 C845.6 695.3 847.9 696.9 850.0 699.0 C852.1 701.1 854.8 702.6 855.8 703.3" fill="none" stroke="#fbfbfb" stroke-width="2.1" stroke-linejoin="round" stroke-linecap="round"/>
<g fill="#04c3de">
<path d="M100.5 422.7 C104.2 444.9 117.6 526.5 123.0 556.0 C128.4 585.5 129.0 584.8 132.9 600.0 C136.8 615.2 141.0 629.5 146.2 647.5 C151.3 665.5 160.9 697.9 163.8 708.0" fill="none" stroke="#04c3de" stroke-width="8.0"/>
<polygon points="154.4,710.7 169.6,722.6 173.2,703.7"/>
<path d="M522.5 388.7 Q537 515 541.3 557" fill="none" stroke="#04c3de" stroke-width="8.5"/>
<polygon points="531.3,556.2 541.6,574.0 551.3,555.8"/>
<path d="M675.7 386 L689.3 556" fill="none" stroke="#04c3de" stroke-width="8"/>
<polygon points="679.3,555.8 689.6,572.6 699.3,555.4"/>
<path d="M940.8 796 L940.8 650 C940.8 615 932 593 916 582" fill="none" stroke="#04c3de" stroke-width="7.3"/>
<polygon points="904,575.2 920.4,574.6 911.9,589.2"/>
<path d="M940.8 770 C938 758 930 748 920 742" fill="none" stroke="#04c3de" stroke-width="7.3"/>
<polygon points="907.7,735 925.9,734.3 916.2,749.6"/>
</g>
<rect x="40" y="557" width="312" height="30" fill="#2e343c"/>
<rect x="485" y="500" width="290" height="30" fill="#2e343c"/>
<g fill="#ffffff" stroke="#ffffff" stroke-width="0.3" font-family="'Liberation Sans', sans-serif">
<text x="42.6" y="578.2" font-size="14.8" textLength="306.5" lengthAdjust="spacingAndGlyphs">Large Downward Momentum Of  Stock’s Price</text>
<text x="486.2" y="521.7" font-size="14.8" textLength="288" lengthAdjust="spacingAndGlyphs">Large Upward Momentum Of  Stock’s Price</text>
<text x="184.8" y="604" font-size="22.6" fill="#17709a" stroke="#17709a" textLength="74" lengthAdjust="spacingAndGlyphs">%K Line</text>
<text x="636.8" y="706" font-size="21.3" textLength="76" lengthAdjust="spacingAndGlyphs">%D Line</text>
<text x="884.9" y="399.2" font-size="22" textLength="54.3" lengthAdjust="spacingAndGlyphs">PRICE</text>
<text x="475.8" y="777.2" font-size="21.9" textLength="48.9" lengthAdjust="spacingAndGlyphs">TIME</text>
<text x="611.3" y="791.8" font-size="22" textLength="318.4" lengthAdjust="spacingAndGlyphs">Range-Bound Between 0 And 100</text>
<g font-size="15.9">
<text x="873.1" y="584.6" textLength="24.4" lengthAdjust="spacingAndGlyphs">100</text>
<text x="874.4" y="616.6" textLength="17.3" lengthAdjust="spacingAndGlyphs">80</text>
<text x="874.4" y="649.1" textLength="17.3" lengthAdjust="spacingAndGlyphs">60</text>
<text x="874.4" y="681.6" textLength="17.3" lengthAdjust="spacingAndGlyphs">40</text>
<text x="874.4" y="713.6" textLength="17.3" lengthAdjust="spacingAndGlyphs">20</text>
<text x="877.4" y="745.1" textLength="9.0" lengthAdjust="spacingAndGlyphs">0</text>
</g>
</g>
</svg>
</body></html>
